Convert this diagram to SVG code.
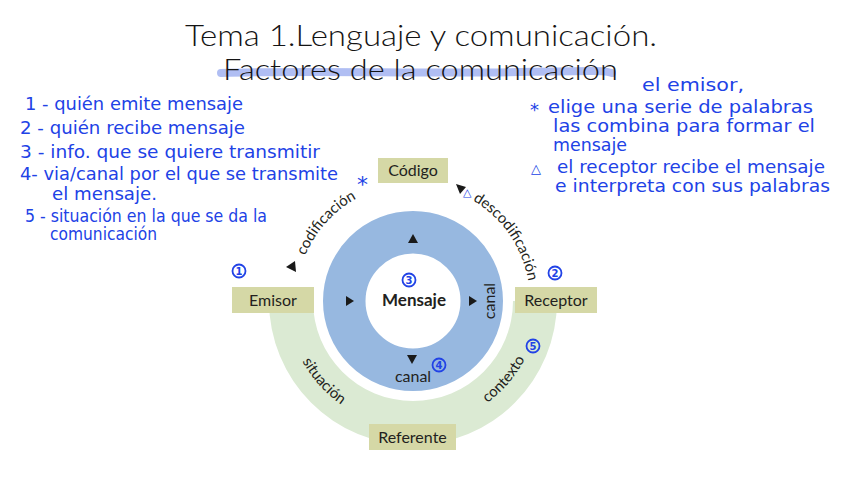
<svg xmlns="http://www.w3.org/2000/svg" width="848" height="477" viewBox="0 0 848 477">
<defs>
<style>
.title{font-family:Lato,"Open Sans","Liberation Sans",sans-serif;font-weight:300;font-size:29px;fill:#141414}
.box{fill:#d5d8a6}
.lbl{font-family:Lato,"Liberation Sans",sans-serif;font-size:16px;fill:#231f20;text-anchor:middle}
.arc{font-family:Lato,"Liberation Sans",sans-serif;font-size:15px;fill:#231f20;text-anchor:middle}
.tri{fill:#1a1a1a}
.hw{font-family:"DejaVu Sans","Liberation Sans",sans-serif;font-size:17.5px;fill:#2142e6}
.num{font-family:"DejaVu Sans",sans-serif;font-size:10px;font-weight:bold;fill:#2142e6;text-anchor:middle}
.circ{fill:none;stroke:#2142e6;stroke-width:1.8}
</style>
<path id="arcTop" d="M 296 301 A 117 117 0 0 1 530 301"/>
<path id="arcBot" d="M 287 301 A 126 126 0 0 0 539 301"/>
</defs>
<rect width="848" height="477" fill="#ffffff"/>

<!-- title -->
<g id="title">
<path d="M 221 73 C 320 70, 420 74, 520 72 S 600 71, 612 73" fill="none" stroke="#8ea3ee" stroke-opacity="0.7" stroke-width="8" stroke-linecap="round"/>
<text class="title" x="185" y="46" textLength="472" lengthAdjust="spacingAndGlyphs">Tema 1.Lenguaje y comunicación.</text>
<text class="title" x="223" y="80" textLength="395" lengthAdjust="spacingAndGlyphs">Factores de la comunicación</text>
</g>

<!-- rings -->
<g id="contexto-ring">
<path d="M 269 301 A 144 144 0 0 0 557 301 L 513 301 A 100 100 0 0 1 313 301 Z" fill="#dbead3"/>
</g>
<g id="mensaje">
<circle cx="413" cy="301" r="68.75" fill="none" stroke="#97b8e0" stroke-width="42.5"/>
<text x="414" y="306" class="lbl" style="font-weight:bold;font-size:17px">Mensaje</text>
<polygon class="tri" points="413,234 418,243 408,243"/>
<polygon class="tri" points="354,301 346,296 346,306"/>
<polygon class="tri" points="477,301 469,296 469,306"/>
<polygon class="tri" points="412,364 407,355 417,355"/>
<text x="413" y="382" class="lbl">canal</text>
<text transform="translate(495,301) rotate(-90)" class="lbl">canal</text>
</g>

<!-- connectors -->
<g id="connectors">
<text class="arc"><textPath href="#arcTop" startOffset="23.3%">codificación</textPath></text>
<text class="arc"><textPath href="#arcTop" startOffset="80.8%">descodificación</textPath></text>
<text class="arc"><textPath href="#arcBot" startOffset="23.3%">situación</textPath></text>
<text class="arc"><textPath href="#arcBot" startOffset="77.4%">contexto</textPath></text>
<polygon class="tri" points="286,267 295,261 296,272"/>
<polygon class="tri" points="456,184 466,187 460,194"/>
</g>

<!-- nodes -->
<g id="codigo">
<rect class="box" x="378" y="158" width="70" height="25"/>
<text class="lbl" x="413" y="176">Código</text>
</g>
<g id="emisor">
<rect class="box" x="232" y="287" width="82" height="26"/>
<text class="lbl" x="273" y="305.5">Emisor</text>
</g>
<g id="receptor">
<rect class="box" x="515" y="287" width="82" height="26"/>
<text class="lbl" x="556" y="305.5">Receptor</text>
</g>
<g id="referente">
<rect class="box" x="369" y="424" width="87" height="26"/>
<text class="lbl" x="412.5" y="442.5">Referente</text>
</g>

<!-- handwritten notes -->
<g id="notes">
<text class="hw" x="25" y="110" textLength="218" lengthAdjust="spacingAndGlyphs">1 - quién emite mensaje</text>
<text class="hw" x="20" y="134" textLength="225" lengthAdjust="spacingAndGlyphs">2 - quién recibe mensaje</text>
<text class="hw" x="20" y="158" textLength="300" lengthAdjust="spacingAndGlyphs">3 - info. que se quiere transmitir</text>
<text class="hw" x="20" y="180" textLength="318" lengthAdjust="spacingAndGlyphs">4- via/canal por el que se transmite</text>
<text class="hw" x="52" y="200" textLength="105" lengthAdjust="spacingAndGlyphs">el mensaje.</text>
<text class="hw" x="25" y="222" textLength="242" lengthAdjust="spacingAndGlyphs">5 - situación en la que se da la</text>
<text class="hw" x="50" y="240" textLength="107" lengthAdjust="spacingAndGlyphs">comunicación</text>

<text class="hw" x="642" y="91" textLength="102" lengthAdjust="spacingAndGlyphs">el emisor,</text>
<text class="hw" x="530" y="116" style="font-size:18px">*</text>
<text class="hw" x="548" y="113" textLength="265" lengthAdjust="spacingAndGlyphs">elige una serie de palabras</text>
<text class="hw" x="553" y="132" textLength="262" lengthAdjust="spacingAndGlyphs" style="font-size:17px">las combina para formar el</text>
<text class="hw" x="553" y="151" textLength="74" lengthAdjust="spacingAndGlyphs" style="font-size:17px">mensaje</text>
<text class="hw" x="531" y="173" style="font-size:13px">△</text>
<text class="hw" x="557" y="173" textLength="268" lengthAdjust="spacingAndGlyphs">el receptor recibe el mensaje</text>
<text class="hw" x="555" y="192" textLength="275" lengthAdjust="spacingAndGlyphs">e interpreta con sus palabras</text>

<text class="hw" x="357" y="192" style="font-size:22px">*</text>
<text class="hw" x="463" y="196" style="font-size:11px">△</text>

<circle class="circ" cx="239" cy="271" r="6.5"/><text class="num" x="239" y="274.5">1</text>
<circle class="circ" cx="555" cy="273" r="6.5"/><text class="num" x="555" y="276.5">2</text>
<circle class="circ" cx="409" cy="280" r="6.5"/><text class="num" x="409" y="283.5">3</text>
<circle class="circ" cx="439" cy="365" r="6.5"/><text class="num" x="439" y="368.5">4</text>
<circle class="circ" cx="533" cy="346" r="6.5"/><text class="num" x="533" y="349.5">5</text>
</g>
</svg>
